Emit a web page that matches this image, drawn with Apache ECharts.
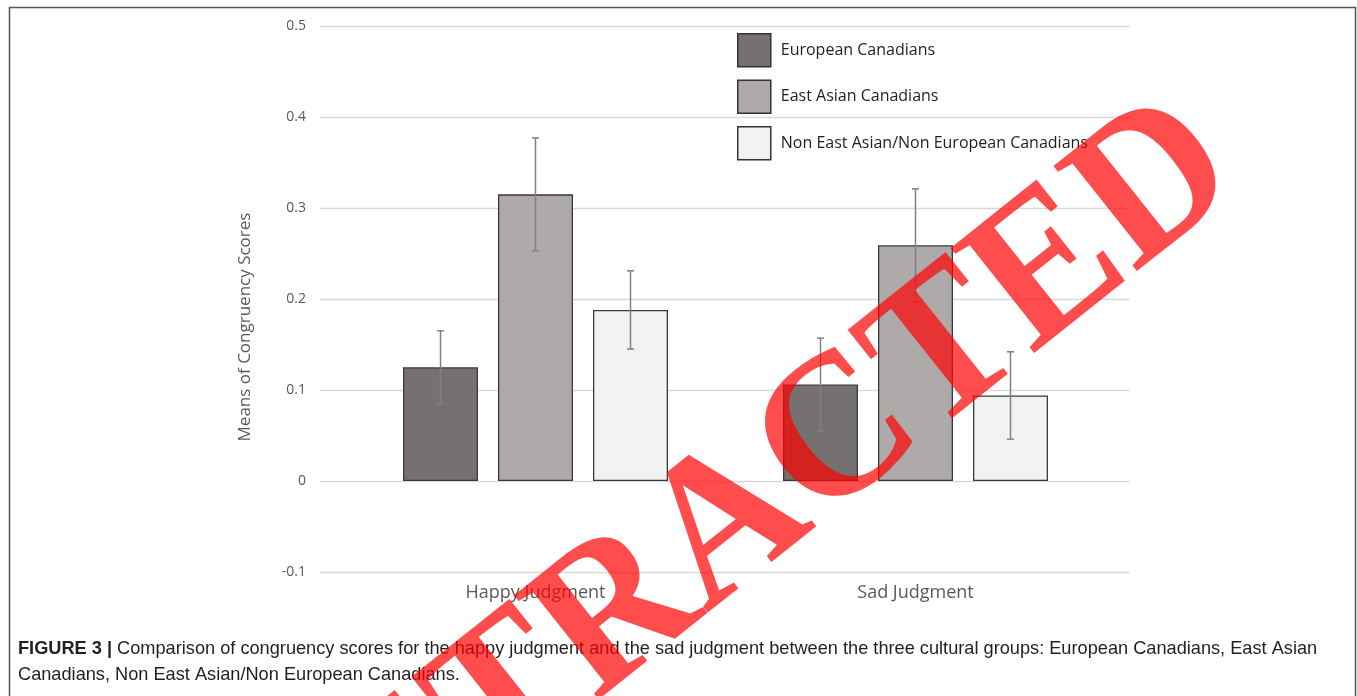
<!DOCTYPE html>
<html>
<head>
<meta charset="utf-8">
<script src="https://cdn.jsdelivr.net/npm/echarts@6/dist/echarts.min.js"></script>
<style>html,body{margin:0;padding:0;background:#fff}#c{width:1357px;height:696px}</style>
</head>
<body>
<div id="c"></div>
<script>
// ---- data ----
var categories = ['Happy Judgment', 'Sad Judgment'];
var seriesNames = ['European Canadians', 'East Asian Canadians', 'Non East Asian/Non European Canadians'];
var european = [0.125, 0.106];
var eastAsian = [0.315, 0.259];
var nonEastNonEuro = [0.188, 0.094];
var europeanErr = [0.040, 0.051];
var eastAsianErr = [0.062, 0.062];
var nonEastNonEuroErr = [0.043, 0.048];
var yTicks = [-0.1, 0, 0.1, 0.2, 0.3, 0.4, 0.5];
var yAxisTitle = 'Means of Congruency Scores';
var captionBold = 'FIGURE 3 |';
var captionLine1 = ' Comparison of congruency scores for the happy judgment and the sad judgment between the three cultural groups: European Canadians, East Asian';
var captionLine2 = 'Canadians, Non East Asian/Non European Canadians.';
var stampText = 'RETRACTED';

// ---- style ----
var colors = ['#767171', '#AEAAAA', '#F2F2F2'];
var BAR_W = 75, BAR_GAP = 20;
var font = 'Open Sans';

var chart = echarts.init(document.getElementById('c'), null, {renderer: 'canvas'});

function errSeries(idx, means, errs) {
  var data = means.map(function (m, i) { return [i, m - errs[i], m + errs[i]]; });
  return {
    type: 'custom',
    xAxisIndex: 1, yAxisIndex: 1,
    z: 5,
    silent: true,
    data: data,
    renderItem: function (params, api) {
      var off = (idx - 1) * (BAR_W + BAR_GAP);
      var lo = api.coord([api.value(0), api.value(1)]);
      var hi = api.coord([api.value(0), api.value(2)]);
      var x = lo[0] + off;
      var cap = 3.5;
      var st = {stroke: '#808080', lineWidth: 1.5};
      return {
        type: 'group',
        children: [
          {type: 'line', shape: {x1: x, y1: lo[1], x2: x, y2: hi[1]}, style: st},
          {type: 'line', shape: {x1: x - cap, y1: lo[1], x2: x + cap, y2: lo[1]}, style: st},
          {type: 'line', shape: {x1: x - cap, y1: hi[1], x2: x + cap, y2: hi[1]}, style: st}
        ]
      };
    }
  };
}

function barSeries(idx, values) {
  return {
    name: seriesNames[idx],
    type: 'bar',
    xAxisIndex: 1, yAxisIndex: 1,
    barWidth: BAR_W,
    barGap: (BAR_GAP / BAR_W * 100).toFixed(2) + '%',
    data: values,
    itemStyle: {color: colors[idx], borderColor: '#3a3a3a', borderWidth: 1.3},
    emphasis: {disabled: true}
  };
}

var yMin = yTicks[0], yMax = yTicks[yTicks.length - 1];

var option = {
  animation: false,
  backgroundColor: '#fff',
  legend: {
    orient: 'vertical',
    left: 737, top: 33,
    padding: 0,
    itemWidth: 33, itemHeight: 33, itemGap: 12,
    icon: 'rect',
    selectedMode: false,
    itemStyle: {borderColor: '#333', borderWidth: 1.5},
    textStyle: {fontFamily: font, fontSize: 16, color: '#1f1f1f', padding: [0, 0, 0, 5]},
    data: seriesNames
  },
  grid: [
    {left: 320, right: 227, top: 26, bottom: 124, containLabel: false},
    {left: 345.5, width: 760, top: 26, bottom: 124, containLabel: false}
  ],
  xAxis: [
    {type: 'category', gridIndex: 0, data: categories, show: false},
    {type: 'category', gridIndex: 1, data: categories,
     axisLine: {show: false}, axisTick: {show: false},
     axisLabel: {fontFamily: font, fontSize: 18, color: '#595959', margin: 12}}
  ],
  yAxis: [
    {type: 'value', gridIndex: 0, min: yMin, max: yMax, interval: 0.1,
     axisLine: {show: false}, axisTick: {show: false},
     axisLabel: {fontFamily: font, fontSize: 14, color: '#595959', margin: 14,
       formatter: function (v) { var r = Math.round(v * 10) / 10; return r === 0 ? '0' : String(r); }},
     splitLine: {lineStyle: {color: '#d9d9d9', width: 1.3}},
     name: yAxisTitle, nameLocation: 'middle', nameGap: 66,
     nameTextStyle: {fontFamily: font, fontSize: 17, color: '#595959', padding: [0, 0, 0, -56]}},
    {type: 'value', gridIndex: 1, min: yMin, max: yMax, interval: 0.1, show: false}
  ],
  series: [
    barSeries(0, european),
    barSeries(1, eastAsian),
    barSeries(2, nonEastNonEuro),
    errSeries(0, european, europeanErr),
    errSeries(1, eastAsian, eastAsianErr),
    errSeries(2, nonEastNonEuro, nonEastNonEuroErr)
  ],
  graphic: [
    {type: 'rect', left: 7, top: 5, z: 1, silent: true,
     shape: {width: 1346, height: 720}, style: {fill: 'none', stroke: '#555', lineWidth: 1.5}},
    {type: 'text', x: 18, y: 649, z: 10, silent: true,
     style: {text: '{b|' + captionBold + '}' + captionLine1, fill: '#231f20',
       font: '18.2px "Liberation Sans", Arial, sans-serif', verticalAlign: 'middle',
       rich: {b: {fontWeight: 'bold', fontSize: 18.2, fontFamily: 'Liberation Sans', fill: '#231f20'}}}},
    {type: 'text', x: 18, y: 675, z: 10, silent: true,
     style: {text: captionLine2, fill: '#231f20',
       font: '18.2px "Liberation Sans", Arial, sans-serif', verticalAlign: 'middle'}},
    {type: 'text', x: 729, y: 528, z: 100, silent: true,
     rotation: 38.5 * Math.PI / 180, scaleX: 0.96,
     style: {text: stampText, fill: '#ff0000', opacity: 0.7,
       font: 'bold 205px "Liberation Serif", "Times New Roman", serif',
       align: 'center', verticalAlign: 'middle'}}
  ]
};
chart.setOption(option);
</script>
</body>
</html>
